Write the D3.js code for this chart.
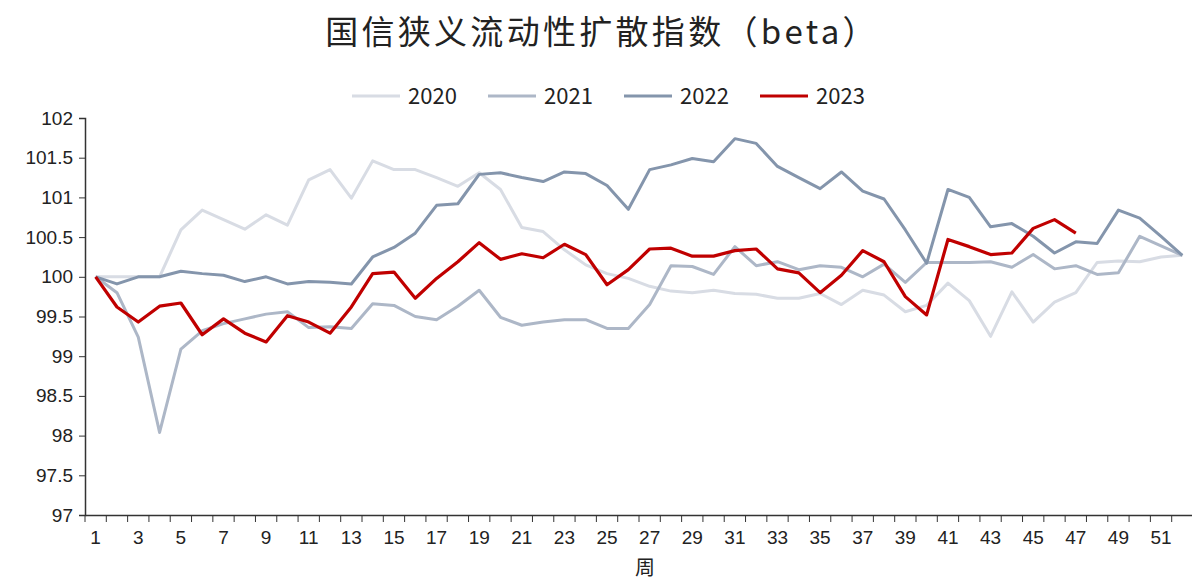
<!DOCTYPE html>
<html>
<head>
<meta charset="utf-8">
<script src="https://cdn.jsdelivr.net/npm/d3@7"></script>
<style>
  body { margin: 0; background: #fff; }
  svg text { fill: #222; }
</style>
</head>
<body>
<svg id="chart"></svg>
<script>
// data (weekly index, base 100)
const weeks = d3.range(1, 53);
const years = ["2020", "2021", "2022", "2023"];
const colors = ["#d8dce4", "#adb7c7", "#8495ac", "#c00000"];
const yTicks = [97, 97.5, 98, 98.5, 99, 99.5, 100, 100.5, 101, 101.5, 102];

const v2020 = [100, 100, 100, 100, 100.59, 100.84, 100.72, 100.60, 100.78, 100.65,
  101.22, 101.35, 100.99, 101.46, 101.35, 101.35, 101.25, 101.14, 101.31, 101.10,
  100.62, 100.57, 100.34, 100.15, 100.04, 99.98, 99.88, 99.82, 99.80, 99.83,
  99.79, 99.78, 99.73, 99.73, 99.79, 99.65, 99.83, 99.77, 99.56, 99.64,
  99.92, 99.70, 99.25, 99.81, 99.43, 99.68, 99.80, 100.18, 100.20, 100.19,
  100.25, 100.27];
const v2021 = [100, 99.80, 99.24, 98.04, 99.09, 99.32, 99.41, 99.47, 99.53, 99.56,
  99.36, 99.37, 99.35, 99.66, 99.64, 99.50, 99.46, 99.63, 99.83, 99.49,
  99.39, 99.43, 99.46, 99.46, 99.35, 99.35, 99.65, 100.14, 100.13, 100.03,
  100.38, 100.14, 100.19, 100.09, 100.14, 100.12, 100.00, 100.16, 99.93, 100.18,
  100.18, 100.18, 100.19, 100.12, 100.28, 100.10, 100.14, 100.03, 100.05, 100.51,
  100.39, 100.27];
const v2022 = [100, 99.91, 100.00, 100.00, 100.07, 100.04, 100.02, 99.94, 100.00, 99.91,
  99.94, 99.93, 99.91, 100.25, 100.37, 100.55, 100.90, 100.92, 101.29, 101.31,
  101.25, 101.20, 101.32, 101.30, 101.15, 100.85, 101.35, 101.41, 101.49, 101.45,
  101.74, 101.68, 101.39, 101.25, 101.11, 101.32, 101.08, 100.98, 100.59, 100.17,
  101.10, 101.00, 100.63, 100.67, 100.51, 100.30, 100.44, 100.42, 100.84, 100.74,
  100.51, 100.27];
const v2023 = [100, 99.62, 99.43, 99.63, 99.67, 99.27, 99.47, 99.29, 99.18, 99.51,
  99.43, 99.29, 99.62, 100.04, 100.06, 99.73, 99.98, 100.19, 100.43, 100.22,
  100.29, 100.24, 100.41, 100.28, 99.90, 100.09, 100.35, 100.36, 100.26, 100.26,
  100.33, 100.35, 100.10, 100.05, 99.80, 100.02, 100.33, 100.19, 99.75, 99.52,
  100.47, 100.38, 100.28, 100.30, 100.61, 100.72, 100.55];

const series = [v2020, v2021, v2022, v2023];

const width = 1192, height = 583;
const margin = {top: 118, right: -1, bottom: 68, left: 85};

const svg = d3.select("#chart")
  .attr("width", width)
  .attr("height", height)
  .style("font-family", "'Liberation Sans Narrow', 'Noto Sans CJK SC', sans-serif");

const x = d3.scaleBand(weeks, [margin.left, width - margin.right]).padding(0);
const y = d3.scaleLinear([97, 102], [height - margin.bottom, margin.top]);

// title
svg.append("text")
  .attr("x", 602)
  .attr("y", 44)
  .attr("text-anchor", "middle")
  .style("font-family", "'Noto Sans CJK SC', sans-serif")
  .style("font-size", "33px")
  .style("letter-spacing", "3.3px")
  .text("国信狭义流动性扩散指数（beta）");

// legend
const legend = svg.append("g").attr("transform", "translate(352, 96)");
years.forEach((yr, i) => {
  const item = legend.append("g").attr("transform", `translate(${i * 136}, 0)`);
  item.append("line")
    .attr("x1", 0).attr("x2", 48)
    .attr("stroke", colors[i])
    .attr("stroke-width", 3);
  item.append("text")
    .attr("x", 56)
    .attr("y", 8)
    .style("font-size", "22px")
    .text(yr);
});

// axes
const yAxis = svg.append("g")
  .attr("transform", `translate(${margin.left},0)`)
  .call(d3.axisLeft(y).tickValues(yTicks).tickSize(6).tickPadding(6).tickFormat(d => d));
yAxis.select(".domain").attr("stroke", "#333").attr("stroke-width", 1.5);
yAxis.selectAll(".tick line").attr("stroke", "#333");
yAxis.selectAll("text").style("font-size", "19px").style("fill", "#222");

const xAxis = svg.append("g")
  .attr("transform", `translate(0,${height - margin.bottom})`)
  .call(d3.axisBottom(x).tickSize(0).tickPadding(16)
    .tickFormat(d => d % 2 === 1 ? d : ""));
xAxis.select(".domain").attr("stroke", "#333").attr("stroke-width", 1.5);
xAxis.selectAll("text").style("font-size", "19px").style("fill", "#222");

// ticks at the category boundaries
xAxis.selectAll(".bound")
  .data(weeks)
  .join("line")
  .attr("class", "bound")
  .attr("x1", d => x(d)).attr("x2", d => x(d))
  .attr("y1", 0).attr("y2", 7)
  .attr("stroke", "#333");

svg.append("text")
  .attr("x", 645)
  .attr("y", 575)
  .attr("text-anchor", "middle")
  .style("font-family", "'Noto Sans CJK SC', sans-serif")
  .style("font-size", "20px")
  .text("周");

// lines
const line = d3.line()
  .x((d, i) => x(weeks[i]) + x.bandwidth() / 2)
  .y(d => y(d));

svg.append("g")
  .selectAll("path")
  .data(series)
  .join("path")
  .attr("d", line)
  .attr("fill", "none")
  .attr("stroke", (d, i) => colors[i])
  .attr("stroke-width", (d, i) => i === 3 ? 3.2 : 3)
  .attr("stroke-linejoin", "round");
</script>
</body>
</html>
